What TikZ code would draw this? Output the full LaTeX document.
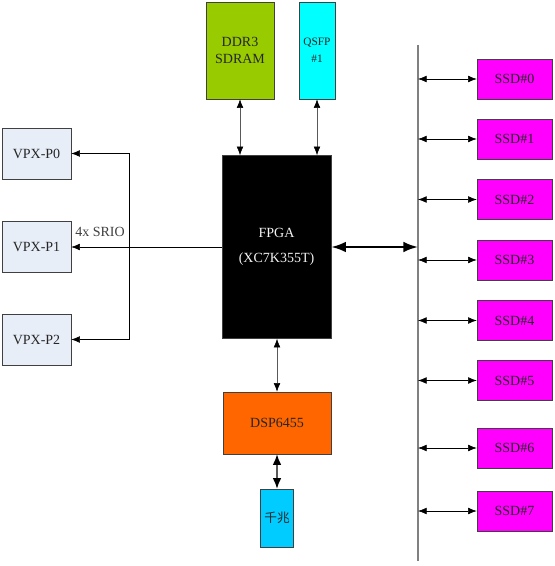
\documentclass[tikz,border=0pt]{standalone}
\usepackage{fontspec}
\setmainfont{Liberation Serif}
\newfontfamily\cjk{Noto Sans CJK SC}
\usetikzlibrary{arrows.meta}

\definecolor{vpxfill}{HTML}{E8EEF8}
\definecolor{ddrfill}{HTML}{99CC00}
\definecolor{qsfpfill}{HTML}{00FFFF}
\definecolor{dspfill}{HTML}{FF6600}
\definecolor{gigefill}{HTML}{00CCFF}
\definecolor{ssdfill}{HTML}{FF00FF}
\definecolor{edge}{HTML}{404040}

\begin{document}
\begin{tikzpicture}[x=0.75pt,y=-0.75pt,
    blk/.style={rectangle,draw=edge,inner sep=0pt,align=center,text=black!85,
        font=\fontsize{10.5}{13}\selectfont},
    link/.style={{Latex[length=6.5pt,width=5pt,black]}-{Latex[length=6.5pt,width=5pt,black]},gray!70!black},
    fat/.style={{Latex[length=11pt,width=8pt]}-{Latex[length=11pt,width=8pt]},line width=1.6pt}]

    \useasboundingbox (0,0) rectangle (555,566);

    %%%%%%%%%%%%%%%%%%%%%%%%%%%%%%%%%%%%%%%%%%%%%%%%%%%%%%

    % fpga
    \node[blk,fill=black,text=white!90!gray,minimum width=81.75pt,minimum height=137.25pt,
        font=\fontsize{10.5}{19}\selectfont] (fpga) at (276.5,247) {FPGA\\(XC7K355T)};

    % memory and optical port
    \node[blk,fill=ddrfill,minimum width=51pt,minimum height=72.75pt] (ddr) at (240,50.5) {DDR3\\SDRAM};
    \node[blk,fill=qsfpfill,minimum width=27pt,minimum height=72.75pt,
        font=\fontsize{8.5}{13}\selectfont] (qsfp) at (317,50.5) {QSFP\\\#1};
    \draw[link] (ddr.south) -- (ddr.south |- fpga.north);
    \draw[link] (qsfp.south) -- (qsfp.south |- fpga.north);

    %%%%%%%%%%%%%%%%%%%%%%%%%%%%%%%%%%%%%%%%%%%%%%%%%%%%%%

    % dsp and gigabit port
    \node[blk,fill=dspfill,minimum width=81pt,minimum height=46.5pt] (dsp) at (277,423) {DSP6455};
    \node[blk,fill=gigefill,minimum width=24.75pt,minimum height=43.5pt,
        font=\cjk\fontsize{9.5}{13}\selectfont] (gige) at (277,518) {千兆};
    \draw[link] (fpga.south -| dsp.north) -- (dsp.north);
    \draw[{Latex[length=8pt,width=6.5pt,black]}-{Latex[length=8pt,width=6.5pt,black]},line width=1pt,gray!70!black] (dsp.south) -- (gige.north);

    %%%%%%%%%%%%%%%%%%%%%%%%%%%%%%%%%%%%%%%%%%%%%%%%%%%%%%

    % vpx connectors
    \node[blk,fill=vpxfill,minimum width=51.75pt,minimum height=38.25pt] (p0) at (36.5,153.5) {VPX-P0};
    \node[blk,fill=vpxfill,minimum width=51.75pt,minimum height=38.25pt] (p1) at (36.5,247) {VPX-P1};
    \node[blk,fill=vpxfill,minimum width=51.75pt,minimum height=38.25pt] (p2) at (36.5,339.5) {VPX-P2};

    % srio fan-out
    \coordinate (srioT) at (129,153.5);
    \coordinate (srioB) at (129,339.5);
    \draw (srioT) -- (srioB);
    \draw[-{Latex[length=6.5pt,width=5pt]}] (srioT) -- (p0.east);
    \draw[-{Latex[length=6.5pt,width=5pt]}] (srioB) -- (p2.east);
    \draw[-{Latex[length=6.5pt,width=5pt]}] (fpga.west |- p1.east) -- (p1.east);
    \node[font=\fontsize{10.5}{13}\selectfont,text=black!75] (srio) at (100,232) {4x SRIO};

    %%%%%%%%%%%%%%%%%%%%%%%%%%%%%%%%%%%%%%%%%%%%%%%%%%%%%%

    % ssd bus
    \coordinate (busT) at (418,45);
    \coordinate (busB) at (418,561);
    \draw[gray,line width=0.9pt] (busT) -- (busB);
    \draw[fat] (fpga.east) -- (fpga.east -| busT);

    % ssd array
    \foreach \i/\y in {0/79,1/139,2/199.5,3/260,4/320.5,5/380.5,6/448,7/511}{
        \node[blk,fill=ssdfill,minimum width=56.25pt,minimum height=30pt] (ssd\i) at (514.5,\y) {SSD\#\i};
        \draw[link,black] (ssd\i.west -| busT) -- (ssd\i.west);
    }

\end{tikzpicture}
\end{document}
